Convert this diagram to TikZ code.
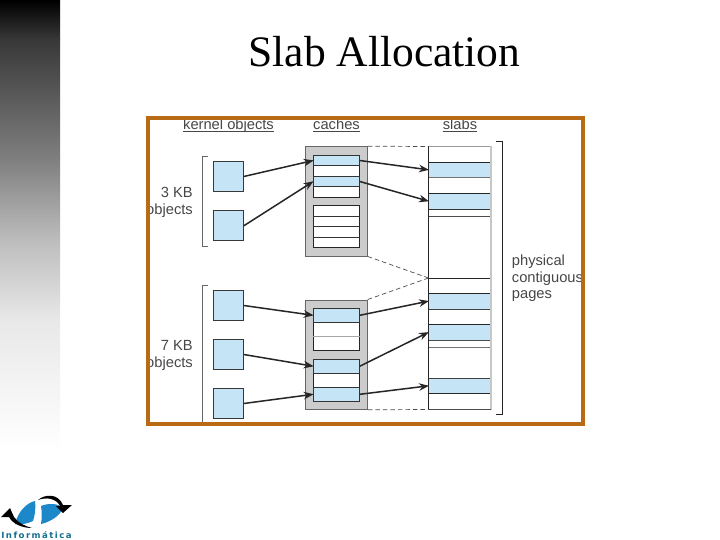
\documentclass[tikz,border=0pt]{standalone}
\usepackage{fontspec}
\setmainfont{Liberation Serif}
\newfontfamily\figfont{Liberation Sans}
\newfontfamily\logofont{DejaVu Sans}
\usepackage{xcolor}
\usetikzlibrary{arrows.meta, positioning, calc}
\definecolor{slotblue}{HTML}{C5E5F7}
\definecolor{framebrown}{HTML}{B96A14}
\definecolor{cachegray}{HTML}{CCCCCC}
\definecolor{logoblue}{HTML}{1C87C9}
\definecolor{logotext}{HTML}{16708F}
\tikzset{
  lbl/.style={font=\figfont\fontsize{14.7}{16.6}\selectfont, text=black!72, inner sep=0pt},
  kobj/.style={draw=black!78, fill=slotblue, line width=1pt, minimum width=30pt, minimum height=29.6pt, inner sep=0pt},
  cachebox/.style={draw=black!60, fill=cachegray, line width=1pt, minimum width=61.6pt, inner sep=0pt},
  cblock/.style={draw=black!85, fill=white, line width=1pt, minimum width=45.6pt, minimum height=42pt, inner sep=0pt},
  cslot/.style={draw=black!80, fill=slotblue, line width=1pt, minimum width=45.6pt, inner sep=0pt},
  sslot/.style={fill=slotblue, minimum width=62pt, inner sep=0pt},
  slabcol/.style={fill=white, minimum width=62pt, minimum height=262.6pt, inner sep=0pt},
  link/.style={-{Stealth[length=10pt,width=7.5pt]}, line width=1.5pt, black!85, shorten >=-0.5pt},
  pagedash/.style={dash pattern=on 4.5pt off 3pt, line width=0.7pt, black!70},
  brk/.style={line width=0.8pt, black!60},
}
\begin{document}
\begin{tikzpicture}[x=1pt, y=-1pt]
  \useasboundingbox (0,0) rectangle (720,540);
  \fill[white] (0,0) rectangle (720,540);

  % left strip
  \foreach \ya/\yb/\ca/\cb in {0/40/100/78, 40/160/78/50, 160/240/50/26, 240/320/26/9, 320/450/9/0}
    \shade[top color=black!\ca, bottom color=black!\cb] (0,\ya) rectangle (60,\yb);

  \node[font=\fontsize{43.5}{48}\selectfont, inner sep=0pt] (title) at (384.5,52) {Slab Allocation};

  % column heads
  \node[lbl, anchor=base] (headk) at (228.5,130) {kernel objects};
  \node[lbl, anchor=base] (headc) at (336.5,130) {caches};
  \node[lbl, anchor=base] (heads) at (460,130) {slabs};
  \foreach \h in {headk,headc,heads}
    \draw[line width=0.7pt, black!72] ($(\h.base west)+(0,1.5)$) -- ($(\h.base east)+(0,1.5)$);

  % brackets
  \draw[brk] (208,156.7) -- (202.3,156.7) -- (202.3,246.3) -- (208,246.3);
  \draw[brk] (208,285.7) -- (202.3,285.7) -- (202.3,424);
  \draw[line width=1pt, black!85] (496,141.7) -- (502.7,141.7) -- (502.7,414.3) -- (496,414.3);

  \node[lbl, align=right, anchor=east] (size3) at (193,202.5) {3 KB\\objects};
  \node[lbl, align=right, anchor=east] (size7) at (193,355.5) {7 KB\\objects};
  \node[lbl, align=left, anchor=west] (pages) at (511.7,278.2) {physical\\contiguous\\pages};

  % kernel objects
  \node[kobj] (kobj1) at (228.3,176.5) {};
  \node[kobj] (kobj2) at (228.3,225.8) {};
  \node[kobj] (kobj3) at (228.3,305.5) {};
  \node[kobj] (kobj4) at (228.3,354.5) {};
  \node[kobj] (kobj5) at (228.3,403.5) {};

  % caches
  \node[cachebox, minimum height=109.3pt] (cacheA) at (336.5,201.35) {};
  \node[cachebox, minimum height=109.3pt] (cacheB) at (336.5,354.65) {};
  \node[cblock] (blockA) at (336.5,176.3) {};
  \node[cblock] (blockB) at (336.5,226.7) {};
  \node[cblock] (blockC) at (336.5,329.3) {};
  \node[cblock] (blockD) at (336.5,380.2) {};
  \node[cslot, minimum height=10.4pt] (cslot1) at (336.5,160.5) {};
  \node[cslot, minimum height=10.4pt] (cslot2) at (336.5,181.5) {};
  \node[cslot, minimum height=14pt] (cslot3) at (336.5,315.3) {};
  \node[cslot, minimum height=14.3pt] (cslot4) at (336.5,366.2) {};
  \node[cslot, minimum height=14pt] (cslot5) at (336.5,394.3) {};
  \foreach \y in {216,226.3,237}
    \draw[line width=0.8pt, black!80] (blockB.west |- 0,\y) -- (blockB.east |- 0,\y);
  \draw[line width=0.8pt, black!35] (blockC.west |- 0,336.3) -- (blockC.east |- 0,336.3);

  % slabs
  \node[slabcol] (slabs) at (459.7,278) {};
  \node[sslot, minimum height=15pt] (sslot1) at (459.7,169.8) {};
  \node[sslot, minimum height=15.7pt] (sslot2) at (459.7,201.15) {};
  \node[sslot, minimum height=15.7pt] (sslot3) at (459.7,301.15) {};
  \node[sslot, minimum height=16pt] (sslot4) at (459.7,332.3) {};
  \node[sslot, minimum height=15.7pt] (sslot5) at (459.7,385.85) {};
  \foreach \y/\c in {162.3/85, 177.3/55, 193.3/85, 209/80, 216.3/70, 278/85, 293.3/85, 309/75, 324.3/85, 340.3/70, 347.3/55, 378/75, 393.7/85}
    \draw[line width=0.8pt, black!\c] (slabs.west |- 0,\y) -- (slabs.east |- 0,\y);
  \draw[line width=0.7pt, black!40] (slabs.north west) -- (slabs.north east);
  \draw[line width=1.2pt, black!22] (slabs.north east) -- (slabs.south east);
  \draw[line width=0.7pt, black!70] (slabs.south west) -- (slabs.south east);
  \draw[line width=1pt, black!85] (slabs.north west) -- (slabs.south west);

  % page ranges
  \coordinate (slabmid) at (slabs.west);
  \draw[pagedash] (cacheA.north east) -- (slabs.north west);
  \draw[pagedash] (cacheA.south east) -- (slabmid);
  \draw[pagedash] (cacheB.north east) -- (slabmid);
  \draw[pagedash] (cacheB.south east) -- (slabs.south west);

  % object to cache, cache to slab
  \foreach \i in {1,...,5} {
    \draw[link] (kobj\i.east) -- (cslot\i.west);
    \draw[link] (cslot\i.east) -- (sslot\i.west);
  }

  % frame goes last, it cuts the text
  \draw[framebrown, line width=4pt] (148,118) rectangle (583,424);

  % logo
  \fill[logoblue] (15,524) .. controls (18,512) and (26,503) .. (35,501) .. controls (36,508) and (35,515) .. (33,521) .. controls (27,524) and (20,525) .. (15,524) -- cycle;
  \fill[logoblue] (41,506) .. controls (48,503) and (58,503) .. (63,508) .. controls (60,516) and (50,522) .. (41,524) .. controls (42,518) and (42,512) .. (41,506) -- cycle;
  \fill[black] (32,528) .. controls (22,528) and (13,524) .. (9,517) -- (1,517) -- (10,508) -- (14,517) .. controls (18,523) and (25,526) .. (32,528) -- cycle;
  \fill[black] (38,500) .. controls (45,494) and (58,493) .. (63,505) -- (72,505) -- (63,513) -- (56,506) -- (60,506) .. controls (56,498) and (46,497) .. (38,500) -- cycle;
  \node[font=\logofont\bfseries\fontsize{8.6}{9}\selectfont, text=logotext, inner sep=0pt] (logoname) at (36.5,535) {I\,n\,f\,o\,r\,m\,á\,t\,i\,c\,a};
\end{tikzpicture}
\end{document}
